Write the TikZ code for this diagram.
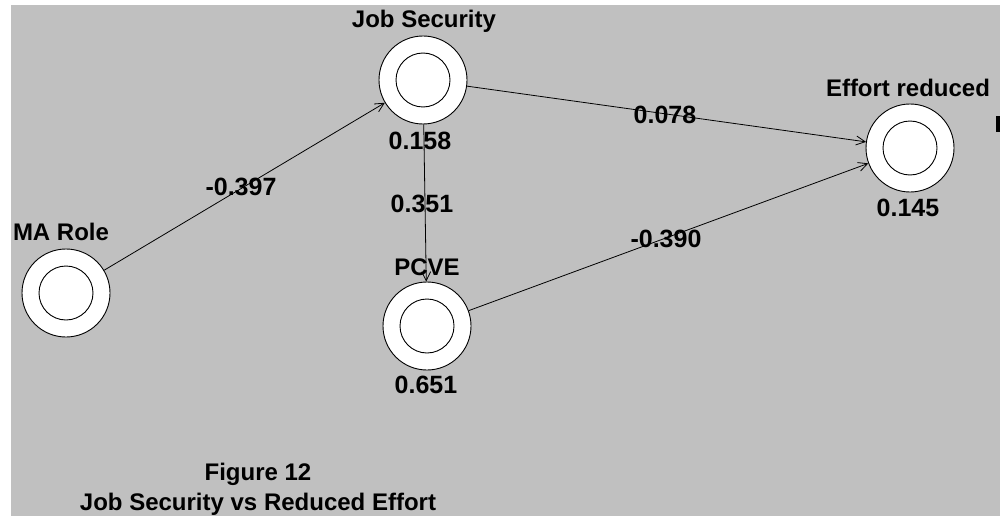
\documentclass[tikz,border=0pt]{standalone}
\usepackage{fontspec}
\setmainfont{Liberation Sans}
\usetikzlibrary{arrows.meta}
\definecolor{panel}{HTML}{C0C0C0}
\tikzset{
  outerc/.style={circle,draw=black,fill=white,line width=0.9pt,minimum size=88pt,inner sep=0pt},
  innerc/.style={circle,draw=black,fill=white,line width=0.9pt,minimum size=54pt,inner sep=0pt},
  lbl/.style={anchor=base,inner sep=0pt,font=\fontsize{24}{28}\selectfont\bfseries},
  num/.style={anchor=base,inner sep=0pt,font=\fontsize{25}{30}\selectfont\bfseries},
  conn/.style={draw=black,line width=0.8pt,-{Straight Barb[length=9pt,width=9pt,line width=0.8pt]}}
}
\begin{document}
\begin{tikzpicture}[x=1pt,y=-1pt]
\useasboundingbox (0,0) rectangle (1000,516);
\fill[white] (0,0) rectangle (1000,516);
\fill[panel] (11,5) rectangle (1000,516);

% constructs
\node[outerc] (js) at (423,80) {};
\node[innerc] (jsi) at (js) {};
\node[outerc] (ef) at (910,148) {};
\node[innerc] (efi) at (ef) {};
\node[outerc] (ma) at (66,293) {};
\node[innerc] (mai) at (ma) {};
\node[outerc] (pc) at (427,326) {};
\node[innerc] (pci) at (pc) {};

% connectors
\draw[conn] (ma) -- (js);
\draw[conn] (js) -- (ef);
\draw[conn] (js) -- (pc);
\draw[conn] (pc) -- (ef);

% names
\node[lbl] (tjs) at (424,28) {Job Security};
\node[lbl] (tef) at (908,97) {Effort reduced};
\node[lbl] (tma) at (61,240) {MA Role};
\node[lbl] (tpc) at (427,275) {PCVE};

% values
\node[num] (vjs) at (420,149) {0.158};
\node[num] (vef) at (908,216) {0.145};
\node[num] (vpc) at (426,393) {0.651};
\node[num] (p1) at (241,195) {-0.397};
\node[num] (p2) at (665,123) {0.078};
\node[num] (p3) at (422,212) {0.351};
\node[num] (p4) at (666,247) {-0.390};

% caption
\node[lbl] (cap1) at (258,480) {Figure 12};
\node[lbl] (cap2) at (258,510) {Job Security vs Reduced Effort};

% cut-off glyph at right edge
\fill[black] (996,116) rectangle (1000,132);
\end{tikzpicture}
\end{document}
